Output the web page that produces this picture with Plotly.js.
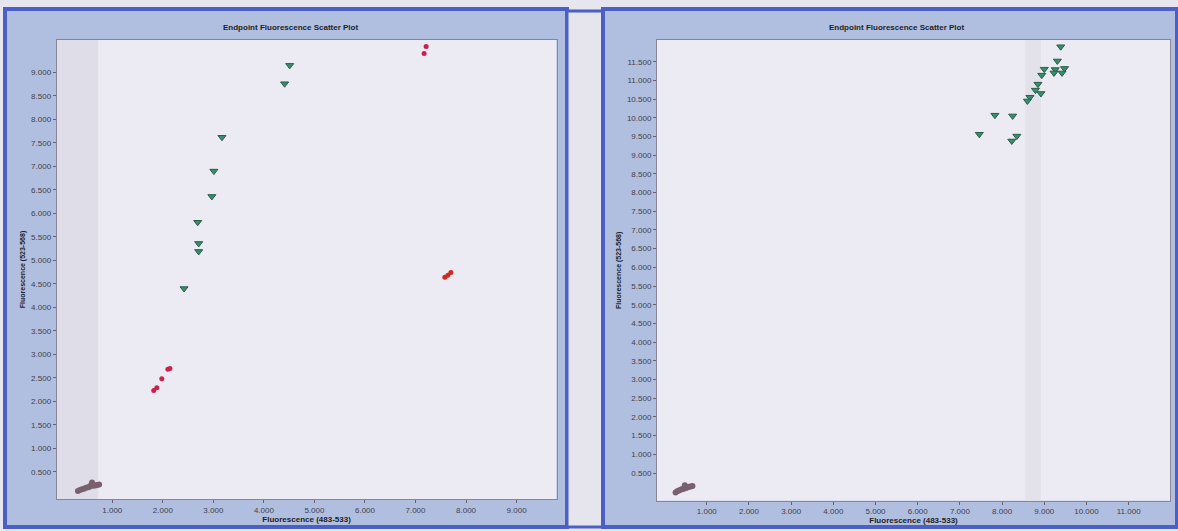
<!DOCTYPE html>
<html>
<head>
<meta charset="utf-8">
<script src="https://cdn.plot.ly/plotly-3.0.1.min.js"></script>
<style>
  html, body { margin: 0; padding: 0; background: #e7e6ee; }
  #chart { width: 1178px; height: 531px; }
</style>
</head>
<body>
<div id="chart"></div>
<script>
// ---- Run A (left plot) ----
const runA_negX = [0.32, 0.36, 0.40, 0.44, 0.48, 0.52, 0.55, 0.58, 0.62, 0.66, 0.70, 0.74, 0.60];
const runA_negY = [0.09, 0.11, 0.13, 0.14, 0.16, 0.17, 0.18, 0.22, 0.20, 0.21, 0.22, 0.23, 0.27];
const runA_redX = [1.82, 1.88, 1.98, 2.10, 2.14, 7.17, 7.21];
const runA_redY = [2.23, 2.29, 2.48, 2.68, 2.70, 9.40, 9.55];
const runA_orangeX = [7.58, 7.64, 7.70];
const runA_orangeY = [4.64, 4.68, 4.74];
const runA_greenX = [2.42, 2.71, 2.71, 2.69, 2.97, 3.01, 3.17, 4.41, 4.51];
const runA_greenY = [4.40, 5.19, 5.36, 5.81, 6.36, 6.90, 7.62, 8.76, 9.15];

// ---- Run B (right plot) ----
const runB_negX = [0.26, 0.30, 0.34, 0.38, 0.42, 0.46, 0.50, 0.54, 0.58, 0.62, 0.66, 0.48];
const runB_negY = [-0.02, 0.01, 0.03, 0.05, 0.07, 0.08, 0.10, 0.11, 0.13, 0.14, 0.15, 0.17];
const runB_greenX = [9.39, 9.31, 9.00, 9.26, 9.23, 9.48, 9.42, 8.94, 8.85, 8.79, 8.92, 8.66, 8.60, 7.83, 8.25, 7.46, 8.35, 8.23];
const runB_greenY = [11.90, 11.52, 11.30, 11.29, 11.20, 11.32, 11.20, 11.14, 10.90, 10.74, 10.65, 10.55, 10.45, 10.07, 10.05, 9.56, 9.51, 9.38];

// ---- Axis ticks ----
const runA_xTicks = [1, 2, 3, 4, 5, 6, 7, 8, 9];
const runA_xLabels = ['1.000', '2.000', '3.000', '4.000', '5.000', '6.000', '7.000', '8.000', '9.000'];
const runA_yTicks = [0.5, 1, 1.5, 2, 2.5, 3, 3.5, 4, 4.5, 5, 5.5, 6, 6.5, 7, 7.5, 8, 8.5, 9];
const runA_yLabels = ['0.500', '1.000', '1.500', '2.000', '2.500', '3.000', '3.500', '4.000', '4.500',
                      '5.000', '5.500', '6.000', '6.500', '7.000', '7.500', '8.000', '8.500', '9.000'];
const runB_xTicks = [1, 2, 3, 4, 5, 6, 7, 8, 9, 10, 11];
const runB_xLabels = ['1.000', '2.000', '3.000', '4.000', '5.000', '6.000', '7.000', '8.000', '9.000', '10.000', '11.000'];
const runB_yTicks = [0.5, 1, 1.5, 2, 2.5, 3, 3.5, 4, 4.5, 5, 5.5, 6, 6.5, 7, 7.5, 8, 8.5, 9, 9.5, 10, 10.5, 11, 11.5];
const runB_yLabels = ['0.500', '1.000', '1.500', '2.000', '2.500', '3.000', '3.500', '4.000', '4.500',
                      '5.000', '5.500', '6.000', '6.500', '7.000', '7.500', '8.000', '8.500', '9.000',
                      '9.500', '10.000', '10.500', '11.000', '11.500'];

const chartTitle = 'Endpoint Fluorescence Scatter Plot';
const xTitle = 'Fluorescence (483-533)';
const yTitle = 'Fluorescence (523-568)';

// ---- Styling ----
const W = 1178, H = 531;
const px = v => v / W;
const py = v => 1 - v / H;
const FONT = 'Liberation Sans, Arial, sans-serif';
const frameBlue = '#4b60c6';
const panelFill = '#b0bfdf';
const plotFill = '#ecebf3';
const borderGrey = '#8a8496';

const negMarker = { symbol: 'circle', size: 6, color: '#79606f', line: { width: 0 } };
const redMarker = { symbol: 'circle', size: 5, color: '#cc1f4c', line: { width: 0 } };
const orangeMarker = { symbol: 'circle', size: 5, color: '#d3281c', line: { width: 0 } };
const greenMarker = { symbol: 'triangle-down', size: 7, color: '#3a8c6c', line: { width: 1, color: '#2a5e4b' } };

function pts(x, y, marker, xa, ya, name) {
  return { type: 'scatter', mode: 'markers', x: x, y: y, xaxis: xa, yaxis: ya,
           marker: marker, name: name, showlegend: false, hoverinfo: 'x+y' };
}

const data = [
  pts(runA_negX, runA_negY, negMarker, 'x', 'y', 'Negative'),
  pts(runA_redX, runA_redY, redMarker, 'x', 'y', 'Allele 2'),
  pts(runA_orangeX, runA_orangeY, orangeMarker, 'x', 'y', 'Allele 2'),
  pts(runA_greenX, runA_greenY, greenMarker, 'x', 'y', 'Heterozygous'),
  pts(runB_negX, runB_negY, negMarker, 'x2', 'y2', 'Negative'),
  pts(runB_greenX, runB_greenY, greenMarker, 'x2', 'y2', 'Heterozygous')
];

function axisCommon() {
  return {
    showgrid: false, zeroline: false,
    showline: true, mirror: true, linecolor: borderGrey, linewidth: 1,
    ticks: 'outside', ticklen: 3, tickcolor: '#666070', tickwidth: 1,
    tickfont: { family: FONT, size: 8, color: '#40404a' },
    tickmode: 'array', fixedrange: true
  };
}
function xTitleObj() {
  return { text: '<b>' + xTitle + '</b>', font: { family: FONT, size: 8, color: '#1e1e28' }, standoff: 2 };
}
function yTitleObj() {
  return { text: '<b>' + yTitle + '</b>', font: { family: FONT, size: 7, color: '#1e1e28' }, standoff: 4 };
}

const layout = {
  width: W, height: H,
  margin: { l: 0, r: 0, t: 0, b: 0 },
  paper_bgcolor: '#e7e6ee',
  plot_bgcolor: 'rgba(0,0,0,0)',
  showlegend: false,
  xaxis: Object.assign(axisCommon(), {
    domain: [px(56.7), px(556.5)], range: [-0.1, 9.79], anchor: 'y',
    tickvals: runA_xTicks, ticktext: runA_xLabels, title: xTitleObj()
  }),
  yaxis: Object.assign(axisCommon(), {
    domain: [py(499), py(40)], range: [-0.08, 9.69], anchor: 'x',
    tickvals: runA_yTicks, ticktext: runA_yLabels, title: yTitleObj()
  }),
  xaxis2: Object.assign(axisCommon(), {
    domain: [px(657), px(1170)], range: [-0.18, 11.98], anchor: 'y2',
    tickvals: runB_xTicks, ticktext: runB_xLabels, title: xTitleObj()
  }),
  yaxis2: Object.assign(axisCommon(), {
    domain: [py(500.7), py(40)], range: [-0.24, 12.08], anchor: 'x2',
    tickvals: runB_yTicks, ticktext: runB_yLabels, title: yTitleObj()
  }),
  shapes: [
    // window frames
    { type: 'rect', xref: 'paper', yref: 'paper', layer: 'below',
      x0: px(5), x1: px(567), y0: py(527), y1: py(9),
      fillcolor: panelFill, line: { color: frameBlue, width: 4 } },
    { type: 'rect', xref: 'paper', yref: 'paper', layer: 'below',
      x0: px(567), x1: px(603), y0: py(527), y1: py(11),
      fillcolor: '#e6e5ee', line: { color: frameBlue, width: 3 } },
    { type: 'rect', xref: 'paper', yref: 'paper', layer: 'below',
      x0: px(603), x1: px(1177), y0: py(527), y1: py(9),
      fillcolor: panelFill, line: { color: frameBlue, width: 4 } },
    // plot areas
    { type: 'rect', xref: 'x domain', yref: 'y domain', layer: 'below',
      x0: 0, x1: 1, y0: 0, y1: 1, fillcolor: plotFill, line: { width: 0 } },
    { type: 'rect', xref: 'x', yref: 'y domain', layer: 'below',
      x0: -0.1, x1: 0.72, y0: 0, y1: 1, fillcolor: '#dfdee8', line: { width: 0 } },
    { type: 'rect', xref: 'x2 domain', yref: 'y2 domain', layer: 'below',
      x0: 0, x1: 1, y0: 0, y1: 1, fillcolor: plotFill, line: { width: 0 } },
    { type: 'rect', xref: 'x2', yref: 'y2 domain', layer: 'below',
      x0: 8.55, x1: 8.92, y0: 0, y1: 1, fillcolor: '#e3e2eb', line: { width: 0 } }
  ],
  annotations: [
    { text: '<b>' + chartTitle + '</b>', xref: 'paper', yref: 'paper',
      x: px(290), y: py(28), xanchor: 'center', yanchor: 'middle', showarrow: false,
      font: { family: FONT, size: 8, color: '#1e1e28' } },
    { text: '<b>' + chartTitle + '</b>', xref: 'paper', yref: 'paper',
      x: px(896), y: py(28), xanchor: 'center', yanchor: 'middle', showarrow: false,
      font: { family: FONT, size: 8, color: '#1e1e28' } }
  ]
};

Plotly.newPlot('chart', data, layout, { displayModeBar: false, staticPlot: true });
</script>
</body>
</html>
